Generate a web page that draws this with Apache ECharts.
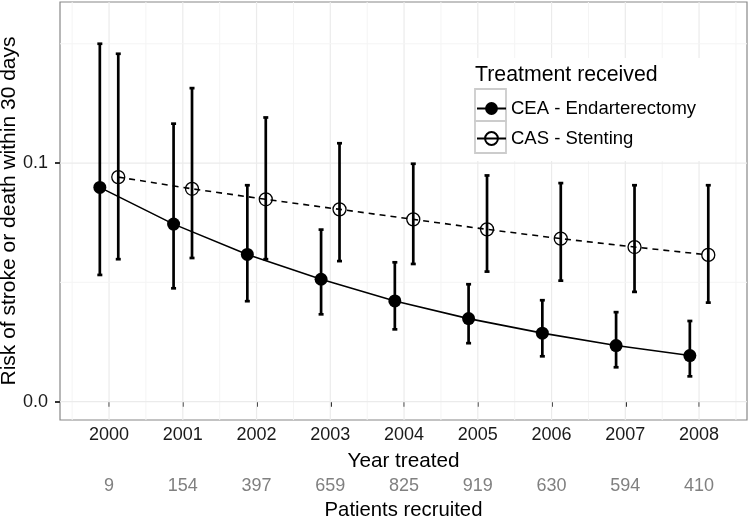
<!DOCTYPE html>
<html><head><meta charset="utf-8">
<script src="https://cdn.jsdelivr.net/npm/echarts@6/dist/echarts.min.js"></script>
<style>html,body{margin:0;padding:0;background:#fff}#c{width:750px;height:517px}</style>
</head><body><div id="c"></div>
<script>
// ---- data ----
const years = [2000, 2001, 2002, 2003, 2004, 2005, 2006, 2007, 2008];
const patients = [9, 154, 397, 659, 825, 919, 630, 594, 410];
const ceaRisk = [0.0898, 0.0744, 0.0617, 0.0513, 0.0422, 0.0348, 0.0287, 0.0235, 0.0193];
const ceaLow  = [0.0531, 0.0475, 0.0421, 0.0366, 0.0303, 0.0245, 0.0190, 0.0144, 0.0106];
const ceaHigh = [0.1500, 0.1165, 0.0907, 0.0721, 0.0584, 0.0492, 0.0425, 0.0375, 0.0338];
const casRisk = [0.0941, 0.0892, 0.0848, 0.0806, 0.0764, 0.0722, 0.0683, 0.0648, 0.0615];
const casLow  = [0.0597, 0.0602, 0.0597, 0.0589, 0.0577, 0.0545, 0.0507, 0.0460, 0.0415];
const casHigh = [0.1458, 0.1314, 0.1191, 0.1083, 0.0997, 0.0948, 0.0916, 0.0907, 0.0907];
const yTicks = [0.0, 0.1];
const yMinorTicks = [0.05, 0.15];
const xMinorTicks = [1999.5, 2000.5, 2001.5, 2002.5, 2003.5, 2004.5, 2005.5, 2006.5, 2007.5, 2008.5];
const seriesNames = ['CEA - Endarterectomy', 'CAS - Stenting'];
const legendTitle = 'Treatment received';
const dodge = 0.125;

const FONT = 'Liberation Sans, Arial, sans-serif';

function gridSeries(vals, dir, color, width) {
  return {
    type: 'custom', silent: true, z: 1, animation: false,
    data: vals.map(v => dir === 'v' ? [v, 0.05] : [2004, v]),
    encode: { x: 0, y: 1 },
    clip: true,
    renderItem: function (params, api) {
      const cs = params.coordSys;
      const p = api.coord([api.value(0), api.value(1)]);
      const shape = dir === 'v'
        ? { x1: p[0], y1: cs.y, x2: p[0], y2: cs.y + cs.height }
        : { x1: cs.x, y1: p[1], x2: cs.x + cs.width, y2: p[1] };
      return { type: 'line', shape: shape, style: { stroke: color, lineWidth: width } };
    }
  };
}

function errSeries(off, low, high) {
  return {
    type: 'custom', silent: true, z: 3, animation: false,
    data: years.map((y, i) => [y + off, low[i], high[i]]),
    encode: { x: 0, y: [1, 2] },
    renderItem: function (params, api) {
      const x = api.value(0);
      const a = api.coord([x, api.value(1)]);
      const b = api.coord([x, api.value(2)]);
      const cap = 2.5;
      const st = { stroke: '#000', lineWidth: 2.7 };
      return {
        type: 'group', children: [
          { type: 'line', shape: { x1: a[0], y1: a[1], x2: b[0], y2: b[1] }, style: st },
          { type: 'line', shape: { x1: a[0] - cap, y1: a[1], x2: a[0] + cap, y2: a[1] }, style: st },
          { type: 'line', shape: { x1: b[0] - cap, y1: b[1], x2: b[0] + cap, y2: b[1] }, style: st }
        ]
      };
    }
  };
}

const chart = echarts.init(document.getElementById('c'), null, { renderer: 'canvas' });
chart.setOption({
  animation: false,
  backgroundColor: '#fff',
  textStyle: { fontFamily: FONT },
  grid: {
    left: 60, right: 3, top: 2, bottom: 97,
    show: true, borderColor: '#888', borderWidth: 1.2, backgroundColor: 'transparent',
    containLabel: false, outerBoundsMode: 'none'
  },
  title: {
    text: legendTitle, left: 475, top: 65, padding: 0,
    textStyle: { fontFamily: FONT, fontSize: 21.3, fontWeight: 'normal', color: '#000' }
  },
  legend: {
    data: seriesNames, orient: 'vertical', left: 476, top: 99, padding: 0,
    itemWidth: 29, itemHeight: 16, itemGap: 11,
    textStyle: { fontFamily: FONT, fontSize: 18.5, color: '#000', lineHeight: 18 },
    lineStyle: { type: 'solid', width: 2, color: '#000' },
    selectedMode: false, z: 10
  },
  graphic: [
    { type: 'rect', z: 4, silent: true, shape: { x: 467, y: 58, width: 238, height: 103 }, style: { fill: '#fff' } },
    { type: 'rect', z: 5, silent: true, shape: { x: 475, y: 89, width: 31, height: 32 }, style: { fill: '#fff', stroke: '#cccccc', lineWidth: 1.8 } },
    { type: 'rect', z: 5, silent: true, shape: { x: 475, y: 121, width: 31, height: 32 }, style: { fill: '#fff', stroke: '#cccccc', lineWidth: 1.8 } }
  ],
  xAxis: [{
    type: 'value', min: 1999.335, max: 2008.65, position: 'bottom',
    axisLine: { show: false },
    axisTick: { show: true, customValues: years, length: 5, lineStyle: { color: '#333', width: 2 } },
    axisLabel: { customValues: years, formatter: v => String(Math.round(v)), fontSize: 18, color: '#1a1a1a', margin: 6, fontFamily: FONT },
    splitLine: { show: false },
    name: 'Year treated', nameLocation: 'middle', nameGap: 31, nameMoveOverlap: false,
    nameTextStyle: { fontSize: 20.7, color: '#000', fontFamily: FONT }
  }, {
    type: 'value', min: 1999.335, max: 2008.65, position: 'bottom', offset: 51,
    axisLine: { show: false },
    axisTick: { show: false, customValues: years },
    axisLabel: { customValues: years, formatter: v => String(patients[years.indexOf(Math.round(v))]), fontSize: 18, color: '#808080', margin: 6, fontFamily: FONT },
    splitLine: { show: false },
    name: 'Patients recruited', nameLocation: 'middle', nameGap: 29, nameMoveOverlap: false,
    nameTextStyle: { fontSize: 20.3, color: '#000', fontFamily: FONT }
  }],
  yAxis: {
    type: 'value', min: -0.0077, max: 0.1675,
    axisLine: { show: false },
    axisTick: { show: true, customValues: yTicks, length: 5, lineStyle: { color: '#333', width: 2 } },
    axisLabel: { customValues: yTicks, formatter: v => v.toFixed(1), fontSize: 18, color: '#1a1a1a', margin: 12, fontFamily: FONT },
    splitLine: { show: false },
    name: 'Risk of stroke or death within 30 days', nameLocation: 'middle', nameGap: 40, nameMoveOverlap: false,
    nameTextStyle: { fontSize: 21, color: '#000', fontFamily: FONT }
  },
  series: [
    gridSeries(xMinorTicks, 'v', '#f4f4f4', 1),
    gridSeries(years, 'v', '#ebebeb', 1.2),
    gridSeries(yMinorTicks, 'h', '#f4f4f4', 1),
    gridSeries(yTicks, 'h', '#ebebeb', 1.2),
    errSeries(-dodge, ceaLow, ceaHigh),
    errSeries(dodge, casLow, casHigh),
    {
      name: seriesNames[0], type: 'line', z: 3,
      data: years.map((y, i) => [y - dodge, ceaRisk[i]]),
      symbol: 'circle', symbolSize: 13,
      itemStyle: { color: '#000' },
      lineStyle: { color: '#000', width: 1.6 },
      emphasis: { disabled: true }
    },
    {
      name: seriesNames[1], type: 'line', z: 3,
      data: years.map((y, i) => [y + dodge, casRisk[i]]),
      symbol: 'circle', symbolSize: 13,
      itemStyle: { color: 'rgba(255,255,255,0)', borderColor: '#000', borderWidth: 1.3 },
      lineStyle: { color: '#000', width: 1.6, type: [6, 5] },
      emphasis: { disabled: true }
    }
  ]
});
</script></body></html>
